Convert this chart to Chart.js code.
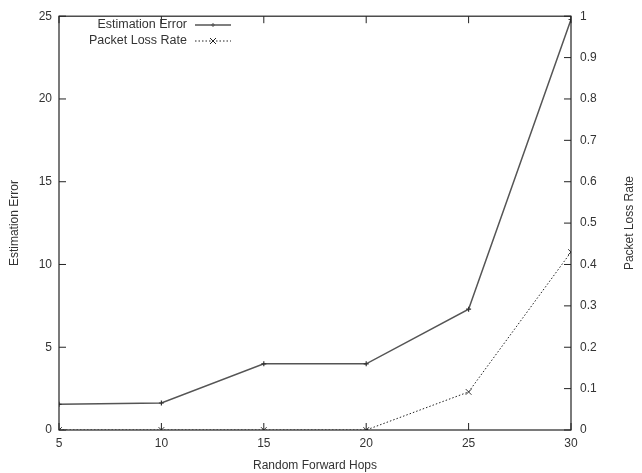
<!DOCTYPE html>
<html>
<head>
<meta charset="utf-8">
<script src="https://cdn.jsdelivr.net/npm/chart.js@4"></script>
<style>
  html, body { margin: 0; padding: 0; background: #fff; }
  #wrap { width: 642px; height: 473px; }
</style>
</head>
<body>
<div id="wrap"><canvas id="chart" width="642" height="473"></canvas></div>
<script>
const hops = [5, 10, 15, 20, 25, 30];
const estimationError = [1.55, 1.63, 4.0, 4.0, 7.3, 24.8];
const packetLossRate = [0, 0, 0, 0, 0.092, 0.43];
const xTicks = [5, 10, 15, 20, 25, 30];

const FONT = "'Liberation Sans', Arial, sans-serif";
const TEXT = '#333';

// box around the plot, inward tick marks, legend and right title, gnuplot style
const frame = {
    id: 'frame',
    afterDatasetsDraw(chart) {
        const ctx = chart.ctx, a = chart.chartArea;
        const x = chart.scales.x, y = chart.scales.y, y2 = chart.scales.y2;
        ctx.save();
        ctx.strokeStyle = '#222';
        ctx.lineWidth = 1.2;
        ctx.strokeRect(a.left, a.top, a.right - a.left, a.bottom - a.top);
        ctx.lineWidth = 1;
        ctx.beginPath();
        x.ticks.forEach(t => {
            const px = x.getPixelForValue(t.value);
            ctx.moveTo(px, a.bottom); ctx.lineTo(px, a.bottom - 7);
            ctx.moveTo(px, a.top); ctx.lineTo(px, a.top + 7);
        });
        y.ticks.forEach(t => {
            const py = y.getPixelForValue(t.value);
            ctx.moveTo(a.left, py); ctx.lineTo(a.left + 7, py);
        });
        y2.ticks.forEach(t => {
            const py = y2.getPixelForValue(t.value);
            ctx.moveTo(a.right, py); ctx.lineTo(a.right - 7, py);
        });
        ctx.stroke();

        // legend
        ctx.font = '12.5px ' + FONT;
        ctx.fillStyle = TEXT;
        ctx.textAlign = 'right';
        ctx.textBaseline = 'middle';
        const tx = 187, lx0 = 195, lx1 = 231;
        const rows = [
            { label: 'Estimation Error', y: 25, dash: [], color: '#555', w: 1.5 },
            { label: 'Packet Loss Rate', y: 41, dash: [1.5, 2], color: '#222', w: 1 }
        ];
        rows.forEach((r, i) => {
            ctx.fillText(r.label, tx, r.y);
            ctx.beginPath();
            ctx.setLineDash(r.dash);
            ctx.strokeStyle = r.color;
            ctx.lineWidth = r.w;
            ctx.moveTo(lx0, r.y); ctx.lineTo(lx1, r.y);
            ctx.stroke();
            ctx.setLineDash([]);
            const mx = (lx0 + lx1) / 2;
            ctx.beginPath();
            ctx.lineWidth = 1;
            if (i === 0) {
                ctx.moveTo(mx - 2, r.y); ctx.lineTo(mx + 2, r.y);
                ctx.moveTo(mx, r.y - 2); ctx.lineTo(mx, r.y + 2);
            } else {
                ctx.moveTo(mx - 3, r.y - 3); ctx.lineTo(mx + 3, r.y + 3);
                ctx.moveTo(mx - 3, r.y + 3); ctx.lineTo(mx + 3, r.y - 3);
            }
            ctx.stroke();
        });

        // right axis title, reading bottom to top like the left one
        ctx.translate(630, (a.top + a.bottom) / 2);
        ctx.rotate(-Math.PI / 2);
        ctx.textAlign = 'center';
        ctx.font = '12px ' + FONT;
        ctx.fillText('Packet Loss Rate', 0, 0);
        ctx.restore();
    }
};

const config = {
    type: 'line',
    data: {
        datasets: [{
            label: 'Estimation Error',
            data: hops.map((h, i) => ({ x: h, y: estimationError[i] })),
            borderColor: '#555',
            borderWidth: 1.5,
            pointStyle: 'cross',
            pointRadius: 2.5,
            pointBorderColor: '#333',
            pointBorderWidth: 1.2,
            yAxisID: 'y',
            tension: 0
        }, {
            label: 'Packet Loss Rate',
            data: hops.map((h, i) => ({ x: h, y: packetLossRate[i] })),
            borderColor: '#222',
            borderWidth: 1,
            borderDash: [1.5, 2],
            pointStyle: 'crossRot',
            pointRadius: 4,
            pointBorderColor: '#333',
            pointBorderWidth: 1,
            yAxisID: 'y2',
            tension: 0
        }]
    },
    options: {
        responsive: false,
        animation: false,
        layout: { padding: { top: 15, left: 0, right: 0, bottom: 0 } },
        plugins: { legend: { display: false }, tooltip: { enabled: false } },
        scales: {
            x: {
                type: 'linear',
                min: 5, max: 30,
                afterBuildTicks: s => { s.ticks = xTicks.map(v => ({ value: v })); },
                afterFit: s => { s.height = 43; },
                grid: { display: false, drawTicks: false },
                border: { display: false },
                ticks: { color: TEXT, font: { family: FONT, size: 12 }, padding: 6, maxRotation: 0 },
                title: { display: true, text: 'Random Forward Hops', color: TEXT,
                         font: { family: FONT, size: 12 }, padding: { top: 4, bottom: 0 } }
            },
            y: {
                position: 'left',
                min: 0, max: 25,
                afterFit: s => { s.width = 59; },
                grid: { display: false, drawTicks: false },
                border: { display: false },
                ticks: { stepSize: 5, color: TEXT, font: { family: FONT, size: 12 }, padding: 7 },
                title: { display: true, text: 'Estimation Error', color: TEXT,
                         font: { family: FONT, size: 12 }, padding: { top: 7, bottom: 12 } }
            },
            y2: {
                position: 'right',
                min: 0, max: 1,
                afterFit: s => { s.width = 71; },
                grid: { display: false, drawTicks: false },
                border: { display: false },
                ticks: { stepSize: 0.1, color: TEXT, font: { family: FONT, size: 12 }, padding: 9,
                         callback: v => String(Math.round(v * 10) / 10) },
                title: { display: false }
            }
        }
    },
    plugins: [frame]
};

new Chart(document.getElementById('chart'), config);
</script>
</body>
</html>
